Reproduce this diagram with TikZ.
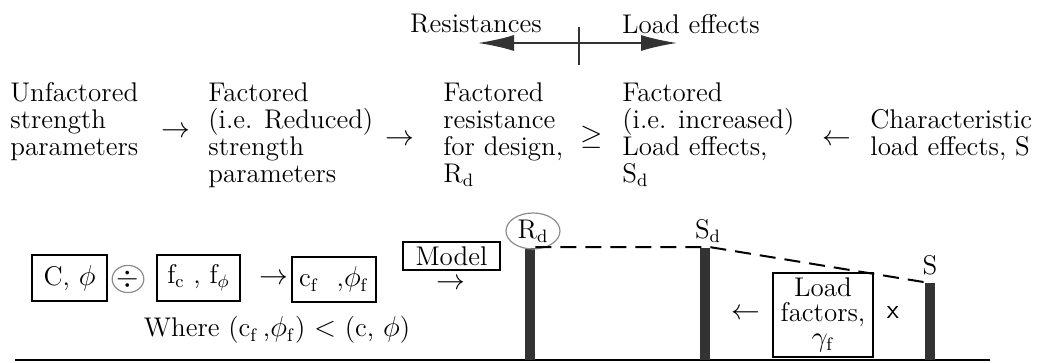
\documentclass[tikz,border=0pt]{standalone}
\usepackage{tikz}
\usetikzlibrary{arrows.meta,shapes.geometric}

\begin{document}
\begin{tikzpicture}[x=0.5pt, y=-0.5pt, font=\fontsize{13.5}{13.5}\selectfont,
    txt/.style={inner sep=0pt, align=left, anchor=north west},
    sym/.style={inner sep=0pt, anchor=base},
    bx/.style={rectangle, draw, line width=0.6pt, inner sep=0pt, text centered},
    bar/.style={rectangle, fill=black!80, minimum width=5pt, inner sep=0pt, anchor=south},
    ring/.style={ellipse, draw=black!45, line width=0.6pt, inner sep=0pt},
    bigarrow/.style={line width=0.8pt, black!80, -{Latex[length=18pt,width=8pt]}}]
      \useasboundingbox (0,0) rectangle (1056,363);

      \node (resist) at (476,24) {Resistances};
      \node (loadeff) at (691,24) {Load effects};
      \coordinate (split) at (579,43);
      \coordinate (rleft) at (478,43);
      \coordinate (lright) at (677,43);
      \draw[bigarrow] (split) -- (rleft);
      \draw[bigarrow] (split) -- (lright);
      \draw[line width=0.8pt, black!80] (split) ++(0,-16) -- ++(0,38);

      \node (unfact) [txt] at (10,82) {Unfactored\\strength\\parameters};
      \node (reduced) [txt] at (208,82) {Factored\\(i.e. Reduced)\\strength\\parameters};
      \node (resdes) [txt] at (443,82) {Factored\\resistance\\for design,\\R$_\mathrm{d}$};
      \node (incr) [txt] at (622,82) {Factored\\(i.e. increased)\\Load effects,\\S$_\mathrm{d}$};
      \node (charact) [txt] at (870,109) {Characteristic\\load effects, S};
      \node (to1) [sym] at (176,138) {$\rightarrow$};
      \node (to2) [sym] at (400,146) {$\rightarrow$};
      \node (geq) [sym] at (592,145) {$\geq$};
      \node (from1) [sym] at (837,146) {$\leftarrow$};

      \draw[line width=1.2pt] (15,360) -- (990,360);
      \node (cphi) [bx, minimum width=37.5pt, minimum height=23pt] at (69.5,278) {C,\ $\phi$};
      \node (divide) [ring, minimum width=13pt, minimum height=11pt] at (128,279) {$\div$};
      \node (fcphi) [bx, minimum width=41.5pt, minimum height=23pt] at (198.5,278) {f$_\mathrm{c}$\ , f$_\phi$};
      \node (to3) [sym] at (274,285) {$\rightarrow$};
      \node (cfphi) [bx, minimum width=42pt, minimum height=22.5pt] at (334,279.5) {c$_\mathrm{f}$\ \ ,$\phi_\mathrm{f}$};
      \node (where) at (277,330) {Where (c$_\mathrm{f}$\,,$\phi_\mathrm{f}$) $<$ (c, $\phi$)};
      \node (model) [bx, minimum width=48.5pt, minimum height=14pt] at (451.5,256) {Model};
      \node (to4) [sym] at (451,290) {$\rightarrow$};

      \node (rdbar) [bar, minimum height=56pt] at (530,360) {};
      \node (sdbar) [bar, minimum height=56pt] at (705,360) {};
      \node (sbar) [bar, minimum height=38.5pt] at (930,360) {};
      \node (rdlab) [ring, minimum width=27pt, minimum height=18pt] at (533,231) {R$_\mathrm{d}$};
      \node (sdlab) at (708,231) {S$_\mathrm{d}$};
      \node (slab) at (930,265) {S};
      \draw[dash pattern=on 8pt off 4.5pt, line width=1pt] (rdbar.north east) -- (sdbar.north east) -- (sbar.north west);

      \node (lfact) [bx, minimum width=50pt, minimum height=42pt, align=center, font=\fontsize{13.5}{12.5}\selectfont] at (823,315) {Load\\factors,\\$\gamma_\mathrm{f}$};
      \node (from2) [sym] at (746,320) {$\leftarrow$};
      \node (times) at (893,313) {\textsf{x}};
    \end{tikzpicture}
\end{document}
